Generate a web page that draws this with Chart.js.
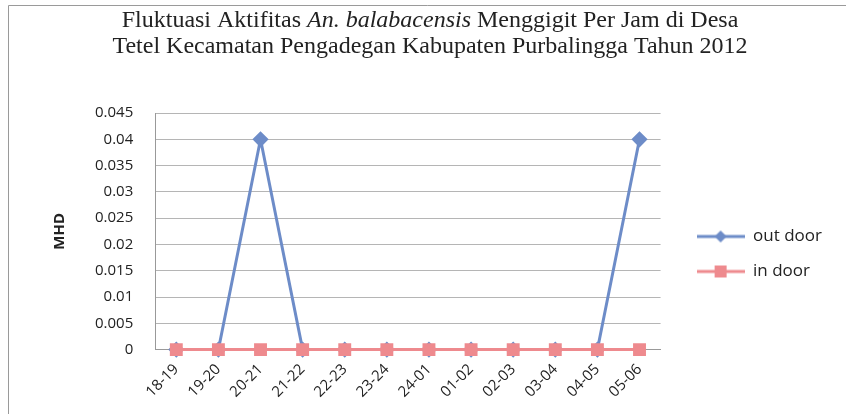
<!DOCTYPE html>
<html>
<head>
<meta charset="utf-8">
<script src="https://cdn.jsdelivr.net/npm/chart.js@4"></script>
<style>
  body { margin: 0; background: #fff; }
  #wrap { width: 846px; height: 414px; }
</style>
</head>
<body>
<div id="wrap"><canvas id="mhd-chart"></canvas></div>
<script>
// jam pengamatan
var hours = ["18-19", "19-20", "20-21", "21-22", "22-23", "23-24",
             "24-01", "01-02", "02-03", "03-04", "04-05", "05-06"];

// MHD per jam
var outDoor = [0, 0, 0.04, 0, 0, 0, 0, 0, 0, 0, 0, 0.04];
var inDoor  = [0, 0, 0, 0, 0, 0, 0, 0, 0, 0, 0, 0];

// title pieces, the species name is in italics
var titleLine1 = [
    ["Fluktuasi Aktifitas ", false],
    ["An. balabacensis", true],
    [" Menggigit Per Jam di Desa", false]
];
var titleLine2 = [
    ["Tetel Kecamatan Pengadegan Kabupaten Purbalingga Tahun 2012", false]
];

var blue = '#6d8cc8';
var pink = '#ee8a8e';

// legend symbol: short line with marker, excel style
function legendSymbol(color, shape) {
    var c = document.createElement('canvas');
    c.width = 48;
    c.height = 16;
    var g = c.getContext('2d');
    g.strokeStyle = color;
    g.fillStyle = color;
    g.lineWidth = 3;
    g.beginPath();
    g.moveTo(0, 8);
    g.lineTo(48, 8);
    g.stroke();
    g.beginPath();
    if (shape == 'diamond') {
        g.moveTo(24, 2); g.lineTo(30, 8); g.lineTo(24, 14); g.lineTo(18, 8);
    } else {
        g.rect(18, 2, 12, 12);
    }
    g.closePath();
    g.fill();
    return c;
}

// frame like the scanned excel chart + the two title lines
var framePlugin = {
    id: 'frame',
    beforeDraw: function(chart) {
        var c = chart.ctx;
        c.save();
        c.fillStyle = '#fff';
        c.fillRect(0, 0, chart.width, chart.height);
        c.strokeStyle = '#9a9a9a';
        c.lineWidth = 1;
        c.beginPath();
        c.moveTo(8.5, chart.height);
        c.lineTo(8.5, 5.5);
        c.lineTo(chart.width, 5.5);
        c.stroke();

        c.fillStyle = '#222';
        c.textBaseline = 'middle';
        c.textAlign = 'left';
        var lines = [[titleLine1, 21], [titleLine2, 47]];
        lines.forEach(function(l) {
            var parts = l[0];
            var fonts = parts.map(function(p) {
                return (p[1] ? 'italic ' : '') + '24px "Liberation Serif"';
            });
            var total = 0;
            parts.forEach(function(p, i) {
                c.font = fonts[i];
                total += c.measureText(p[0]).width;
            });
            var x = 430 - total / 2;
            parts.forEach(function(p, i) {
                c.font = fonts[i];
                c.fillText(p[0], x, l[1]);
                x += c.measureText(p[0]).width;
            });
        });
        c.restore();
    }
};

// place the legend beside the middle of the plot
var legendShift = {
    id: 'legendShift',
    afterLayout: function(chart) {
        var lg = chart.legend;
        var h = lg.bottom - lg.top;
        lg.top = 210;
        lg.bottom = lg.top + h;
        lg.left += 18;
        lg.right += 18;
    }
};

var ctx = document.getElementById("mhd-chart");

var myChart = new Chart(ctx, {
    type: 'line',
    data: {
        labels: hours,
        datasets: [
            {
                label: 'in door',
                data: inDoor,
                borderColor: pink,
                backgroundColor: pink,
                borderWidth: 3,
                pointStyle: 'rect',
                pointRadius: 7,
                pointHoverRadius: 7,
                tension: 0,
                clip: false,
                legendIcon: legendSymbol(pink, 'square')
            },
            {
                label: 'out door',
                data: outDoor,
                borderColor: blue,
                backgroundColor: blue,
                borderWidth: 3,
                pointStyle: 'rectRot',
                pointRadius: 6,
                pointHoverRadius: 6,
                tension: 0,
                clip: false,
                legendIcon: legendSymbol(blue, 'diamond')
            }
        ]
    },
    options: {
        responsive: true,
        maintainAspectRatio: false,
        animation: false,
        layout: { padding: { left: 47, right: 32, top: 113, bottom: 10 } },
        plugins: {
            title: { display: false },
            legend: {
                position: 'right',
                align: 'start',
                reverse: true,
                labels: {
                    usePointStyle: true,
                    pointStyleWidth: 48,
                    color: '#222',
                    font: { family: 'Open Sans', size: 17 },
                    padding: 18,
                    generateLabels: function(chart) {
                        return chart.data.datasets.map(function(ds, i) {
                            return {
                                text: ds.label,
                                pointStyle: ds.legendIcon,
                                fontColor: '#222',
                                datasetIndex: i,
                                lineWidth: 0,
                                strokeStyle: 'transparent',
                                fillStyle: 'transparent'
                            };
                        });
                    }
                }
            },
            tooltip: { enabled: false }
        },
        scales: {
            x: {
                offset: true,
                grid: { display: false },
                border: { color: '#999' },
                ticks: {
                    color: '#222',
                    font: { family: 'Open Sans', size: 15 },
                    maxRotation: 45,
                    minRotation: 45
                }
            },
            y: {
                min: 0,
                max: 0.045,
                ticks: {
                    stepSize: 0.005,
                    color: '#222',
                    font: { family: 'Open Sans', size: 15 },
                    padding: 22,
                    callback: function(v) { return Math.round(v * 1000) / 1000; }
                },
                grid: { color: '#b5b5b5', drawTicks: false },
                border: { color: '#999' },
                title: {
                    display: true,
                    text: 'MHD',
                    color: '#222',
                    font: { family: 'Open Sans', size: 15, weight: 'bold' }
                }
            }
        }
    },
    plugins: [framePlugin, legendShift]
});
</script>
</body>
</html>
